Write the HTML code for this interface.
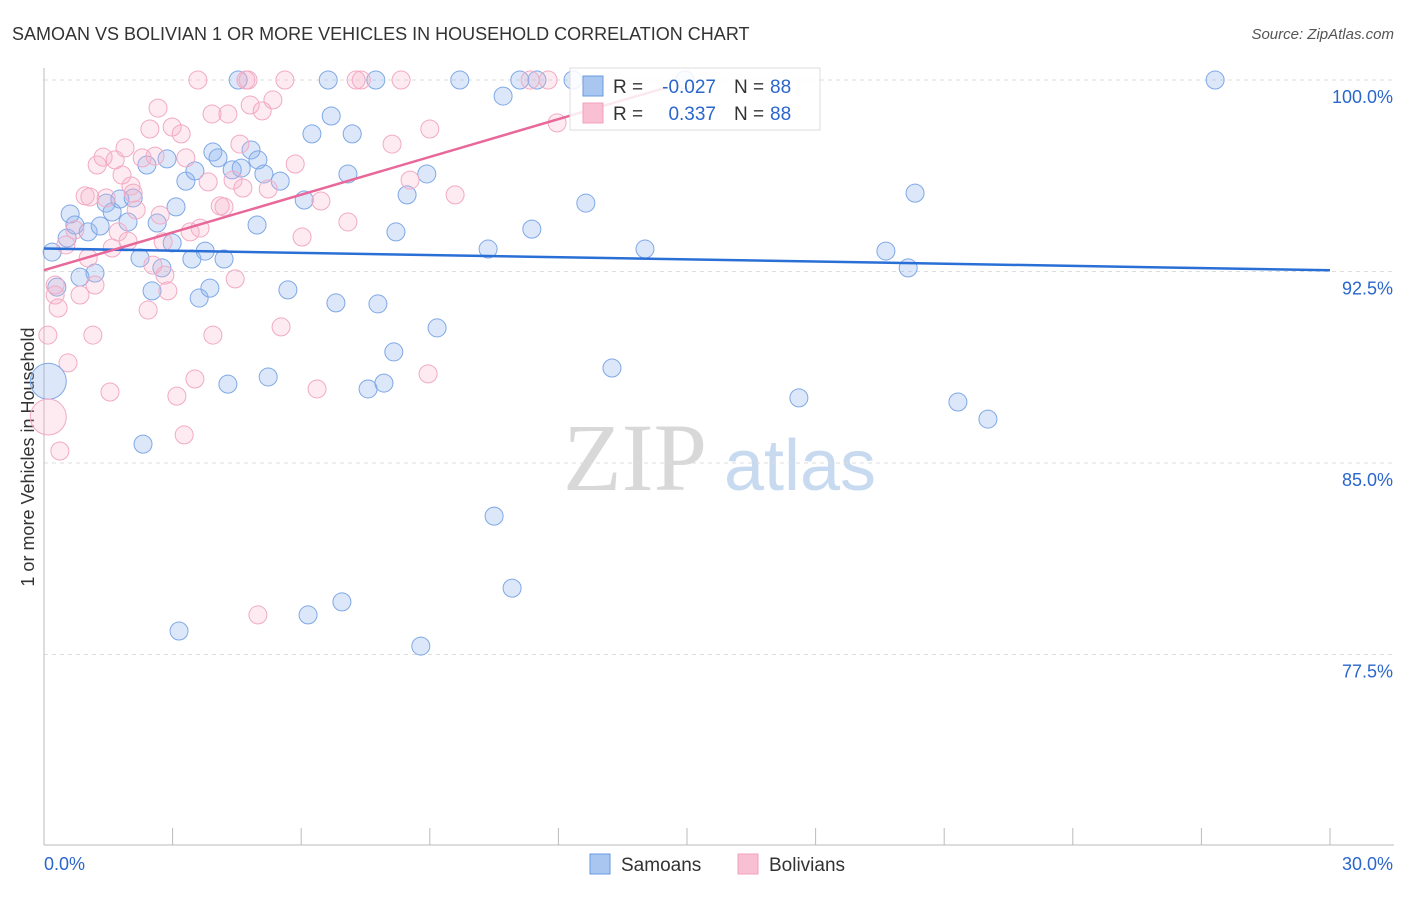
<!DOCTYPE html>
<html><head><meta charset="utf-8"><style>
body{margin:0;background:#fff;font-family:"Liberation Sans",sans-serif}
</style></head><body>
<svg id="c" width="1406" height="892" xmlns="http://www.w3.org/2000/svg">
<text x="12" y="40" font-size="18" fill="#333">SAMOAN VS BOLIVIAN 1 OR MORE VEHICLES IN HOUSEHOLD CORRELATION CHART</text>
<text x="1394" y="39" font-size="15" fill="#555" text-anchor="end" font-style="italic">Source: ZipAtlas.com</text>
<text transform="translate(34,457) rotate(-90)" font-size="18" fill="#333" text-anchor="middle">1 or more Vehicles in Household</text>
<g><text x="635" y="490" font-size="96" font-family="Liberation Serif,serif" fill="#d8d8d8" text-anchor="middle">ZIP</text><text x="800" y="490" font-size="72" fill="#c8daf0" text-anchor="middle">atlas</text></g>
<g id="grid"></g><g id="pts"></g><g id="trend"></g>
<g>
<rect x="570" y="68" width="250" height="62" fill="#fff" fill-opacity="0.85" stroke="#ddd"/>
<rect x="583" y="76" width="20" height="20" fill="#a9c6f0" stroke="#6a9ae0"/>
<rect x="583" y="103" width="20" height="20" fill="#f8c0d2" stroke="#f0a0bc"/>
<text x="613" y="93" font-size="19" fill="#333">R =</text>
<text x="716" y="93" font-size="19" fill="#2a66cc" text-anchor="end">-0.027</text>
<text x="734" y="93" font-size="19" fill="#333">N =</text>
<text x="770" y="93" font-size="19" fill="#2a66cc">88</text>
<text x="613" y="120" font-size="19" fill="#333">R =</text>
<text x="716" y="120" font-size="19" fill="#2a66cc" text-anchor="end">0.337</text>
<text x="734" y="120" font-size="19" fill="#333">N =</text>
<text x="770" y="120" font-size="19" fill="#2a66cc">88</text>
</g>
<g>
<rect x="590" y="854" width="20" height="20" fill="#a9c6f0" stroke="#6a9ae0"/><text x="621" y="871" font-size="19" fill="#333">Samoans</text>
<rect x="738" y="854" width="20" height="20" fill="#f8c0d2" stroke="#f0a0bc"/><text x="769" y="871" font-size="19" fill="#333">Bolivians</text>
</g>
</svg>
<script>
const yTicks=[100,92.5,85,77.5];
const xLabels=["0.0%","30.0%"];
const bluePx=[[52,252],[57,287],[67,238],[70,214],[75,225],[80,277],[88,232],[95,273],[100,226],[106,203],[112,212],[120,199],[128,222],[133,198],[140,258],[143,444],[147,165],[152,291],[157,223],[162,268],[167,159],[172,243],[176,207],[179,631],[186,181],[192,259],[195,171],[199,298],[205,251],[210,288],[213,152],[218,158],[224,259],[228,384],[232,170],[238,80],[241,168],[251,150],[258,160],[257,225],[264,174],[268,377],[280,181],[288,290],[304,200],[308,615],[312,134],[328,80],[331,116],[336,303],[342,602],[348,174],[352,134],[368,389],[376,80],[378,304],[384,383],[394,352],[396,232],[407,195],[421,646],[427,174],[437,328],[460,80],[488,249],[494,516],[503,96],[512,588],[520,80],[532,229],[537,80],[573,80],[586,203],[612,368],[645,249],[685,80],[799,398],[886,251],[908,268],[915,193],[958,402],[988,419],[1215,80]];
const pinkPx=[[48,335],[55,295],[55,285],[58,308],[60,451],[68,363],[66,245],[75,230],[80,295],[85,196],[88,258],[90,197],[93,335],[95,285],[97,165],[103,157],[106,198],[110,392],[112,248],[115,160],[118,232],[122,175],[125,148],[128,241],[131,186],[133,193],[136,210],[142,158],[148,310],[150,129],[153,265],[155,156],[158,108],[160,215],[163,242],[165,275],[168,291],[172,127],[177,396],[181,134],[184,435],[186,158],[190,232],[195,379],[198,80],[200,228],[208,182],[212,114],[213,335],[220,206],[224,207],[228,114],[233,180],[235,279],[240,144],[243,188],[246,80],[248,80],[250,105],[258,615],[262,111],[268,189],[273,100],[281,327],[285,80],[295,164],[302,237],[317,389],[321,201],[348,222],[356,80],[361,80],[392,144],[401,80],[410,180],[430,129],[428,374],[455,195],[530,80],[548,80],[557,123]];
const samoanX=bluePx.map(p=>+((p[0]-44)/1286*30).toFixed(2));
const samoanY=bluePx.map(p=>+(100-(p[1]-80)/191.5*7.5).toFixed(2));
const bolivianX=pinkPx.map(p=>+((p[0]-44)/1286*30).toFixed(2));
const bolivianY=pinkPx.map(p=>+(100-(p[1]-80)/191.5*7.5).toFixed(2));
const bigSamoan=[[0.1,88.2]];const bigBolivian=[[0.1,86.8]];
const blueTrend=[[0,93.4],[30,92.55]];const pinkTrend=[[0,92.55],[14.5,99.7]];
const X=v=>44+v/30*1286, Y=v=>80+(100-v)/7.5*191.5;
const ns="http://www.w3.org/2000/svg";
function mk(t,a,p){const e=document.createElementNS(ns,t);for(const k in a)e.setAttribute(k,a[k]);p.appendChild(e);return e;}
const g=document.getElementById('grid');
yTicks.forEach(v=>{const l=mk('line',{x1:44,x2:1394,y1:Y(v),y2:Y(v),stroke:'#ddd','stroke-dasharray':'4,4'},g);


const t=mk('text',{x:1393,y:Y(v)+23,'font-size':18,fill:'#2a66cc','text-anchor':'end'},g);t.textContent=v.toFixed(1)+'%';

});
const ax=mk('line',{x1:44,x2:44,y1:68,y2:845,stroke:'#bbb'},g);


const bx=mk('line',{x1:44,x2:1394,y1:845,y2:845,stroke:'#bbb'},g);


for(let i=0;i<=10;i++){const t=mk('line',{x1:X(i*3),x2:X(i*3),y1:828,y2:845,stroke:'#bbb'},g);

}
[[0,'start',xLabels[0]],[30,'end',xLabels[1]]].forEach(([v,a,s],i)=>{const t=mk('text',{x:i?1393:44,y:870,'font-size':18,fill:'#2a66cc','text-anchor':a},g);t.textContent=s;

});
const P=document.getElementById('pts');
function dot(x,y,r,f,s,n){const c=mk('circle',{cx:X(x),cy:Y(y),r:r,fill:f,stroke:s,'stroke-width':1},P);

}
samoanX.forEach((x,i)=>dot(x,samoanY[i],9,'rgba(140,180,240,0.3)','#7fa8e6','samoan-point'));
bolivianX.forEach((x,i)=>dot(x,bolivianY[i],9,'rgba(248,175,200,0.25)','#f2aac4','bolivian-point'));
bigSamoan.forEach(p=>dot(p[0],p[1],18,'rgba(140,180,240,0.3)','#7fa8e6','samoan-point-large'));
bigBolivian.forEach(p=>dot(p[0],p[1],18,'rgba(248,175,200,0.25)','#f2aac4','bolivian-point-large'));
const T=document.getElementById('trend');
const l1=mk('line',{x1:X(blueTrend[0][0]),y1:Y(blueTrend[0][1]),x2:X(blueTrend[1][0]),y2:Y(blueTrend[1][1]),stroke:'#2a6fd6','stroke-width':2.5},T);


const l2=mk('line',{x1:X(pinkTrend[0][0]),y1:Y(pinkTrend[0][1]),x2:X(pinkTrend[1][0]),y2:Y(pinkTrend[1][1]),stroke:'#e8689a','stroke-width':2.5},T);


</script>
</body></html>
